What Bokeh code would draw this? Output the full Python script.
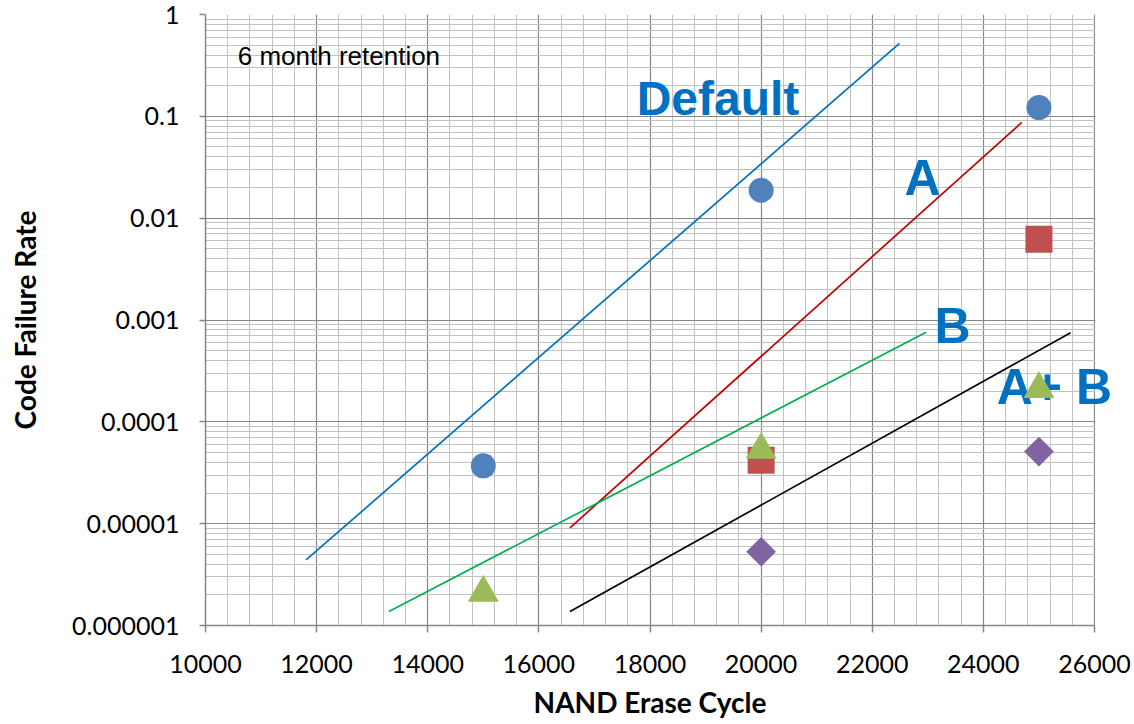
from bokeh.plotting import figure
from bokeh.models import FixedTicker, CustomJSTickFormatter, Range1d, Label, BoxAnnotation
from bokeh.embed import file_html
from bokeh.resources import INLINE
import math

# ---------------- data ----------------
cycles = [15000, 20000, 25000]
default_pts = [3.7e-5, 0.0188, 0.122]
a_x = [20000, 25000]
a_pts = [4.2e-5, 0.0062]
b_pts = [2.1e-6, 5.3e-5, 2.1e-4]
ab_x = [20000, 25000]
ab_pts = [5.3e-6, 5.1e-5]

default_line_x = [11810, 22490]
default_line_y = [4.4e-6, 0.52]
a_line_x = [16560, 24690]
a_line_y = [9.1e-6, 0.087]
b_line_x = [13300, 22970]
b_line_y = [1.37e-6, 7.6e-4]
ab_line_x = [16560, 25570]
ab_line_y = [1.37e-6, 7.5e-4]

x_start, x_end = 10000, 26000
y_start, y_end = 1e-6, 1.0
y_ticks = [1e-6, 1e-5, 1e-4, 1e-3, 1e-2, 1e-1, 1.0]
x_ticks = list(range(x_start, x_end + 1, 2000))

labels = ["Default", "A", "B", "A+ B"]
label_x = [17760, 22580, 23120, 24240]
label_y = [0.15, 0.025, 8.7e-4, 2.2e-4]
label_sizes = ["48px", "50px", "50px", "50px"]

note_text = "6 month retention"
note_x, note_y = 10580, 0.39

x_title = "NAND Erase Cycle"
y_title = "Code Failure Rate"

# ---------------- figure ----------------
# The frame is widened a little past the axis end (and masked there) so that
# the "A+ B" label can run past the last grid line as in the original.
W, H = 1134, 724
frame_left, axis_right_px = 205, 1094
frame_top, frame_bottom = 14, 625
units_per_px = (x_end - x_start) / (axis_right_px - frame_left)
view_end = x_end + (W - axis_right_px) * units_per_px
decades_per_px = math.log10(y_end / y_start) / (frame_bottom - frame_top)

p = figure(width=W, height=H, y_axis_type="log",
           x_range=Range1d(x_start, view_end), y_range=Range1d(y_start, y_end),
           output_backend="svg", toolbar_location=None,
           min_border_left=frame_left, min_border_right=0,
           min_border_top=frame_top, min_border_bottom=H - frame_bottom)
p.outline_line_color = None
p.background_fill_color = "white"
p.border_fill_color = "white"

x_minor = list(range(x_start, x_end + 1, 400))
y_minor = [k * 10.0 ** e for e in range(-6, 0) for k in range(1, 11)]

p.xaxis.ticker = FixedTicker(ticks=x_ticks, minor_ticks=x_minor)
p.yaxis.ticker = FixedTicker(ticks=y_ticks, minor_ticks=y_minor)
p.xgrid.ticker = FixedTicker(ticks=x_ticks, minor_ticks=x_minor)
p.ygrid.ticker = FixedTicker(ticks=y_ticks, minor_ticks=y_minor)
p.xaxis.bounds = (x_start, x_end)

for g in (p.xgrid, p.ygrid):
    g.grid_line_color = "#878787"
    g.grid_line_width = 1.2
    g.minor_grid_line_color = "#c2c2c2"
    g.minor_grid_line_width = 1

# white mask over the grid past the axis end
p.add_layout(BoxAnnotation(left=x_end + 0.8 * units_per_px, fill_color="white", fill_alpha=1.0,
                           line_color=None, level="underlay"))

p.yaxis.formatter = CustomJSTickFormatter(
    code="return tick.toFixed(Math.max(0, Math.round(-Math.log10(tick))));")

for ax in (p.xaxis, p.yaxis):
    ax.axis_line_color = "#868686"
    ax.axis_line_width = 1.5
    ax.major_tick_line_color = "#868686"
    ax.major_tick_line_width = 1.5
    ax.major_tick_in = 0
    ax.minor_tick_in = 0
    ax.minor_tick_out = 0
    ax.major_label_text_font = "Lato"
    ax.major_label_text_font_size = "25px"
    ax.major_label_text_color = "black"
    ax.axis_label_text_font = "Lato"
    ax.axis_label_text_font_style = "bold"
    ax.axis_label_text_color = "black"

p.xaxis.major_tick_out = 7
p.xaxis.major_label_standoff = 22
p.yaxis.major_tick_out = 6
p.yaxis.major_label_standoff = 20
p.yaxis.axis_label = y_title
p.yaxis.axis_label_text_font_size = "28px"
p.yaxis.axis_label_standoff = 27

# x axis title: centred under the axis span (not the widened frame),
# placed in the bottom panel so that it is not clipped by the frame
title_y = y_start * 10 ** (-76 * decades_per_px)
p.add_layout(Label(x=(x_start + x_end) / 2, y=title_y, x_units="data", y_units="data",
                   text=x_title, text_font="Lato", text_font_style="bold",
                   text_font_size="28px", text_color="black",
                   text_align="center", text_baseline="middle"), "below")

# ---------------- texts ----------------
p.add_layout(Label(x=note_x, y=note_y, x_units="data", y_units="data", text=note_text,
                   text_font="Liberation Sans", text_font_size="26px", text_color="black",
                   text_baseline="middle", text_align="left", level="underlay"))
for t, lx, ly, fs in zip(labels, label_x, label_y, label_sizes):
    p.add_layout(Label(x=lx, y=ly, x_units="data", y_units="data", text=t,
                       text_font="Liberation Sans", text_font_style="bold",
                       text_font_size=fs, text_color="#0070C0",
                       text_baseline="middle", text_align="left", level="underlay"))

# ---------------- lines ----------------
p.line(default_line_x, default_line_y, line_color="#0070C0", line_width=1.7)
p.line(a_line_x, a_line_y, line_color="#C00000", line_width=1.7)
p.line(b_line_x, b_line_y, line_color="#00B050", line_width=1.7)
p.line(ab_line_x, ab_line_y, line_color="black", line_width=1.7)

# ---------------- markers ----------------
p.scatter(cycles, default_pts, marker="circle", size=25, fill_color="#4F81BD", line_color=None)
p.scatter(a_x, a_pts, marker="square", size=27, fill_color="#C0504D", line_color=None)
p.scatter(cycles, b_pts, marker="triangle", size=31, fill_color="#9BBB59", line_color=None)
p.scatter(ab_x, ab_pts, marker="square", size=21, angle=math.pi / 4,
          fill_color="#8064A2", line_color=None)

open("out.html", "w").write(file_html(p, INLINE))
